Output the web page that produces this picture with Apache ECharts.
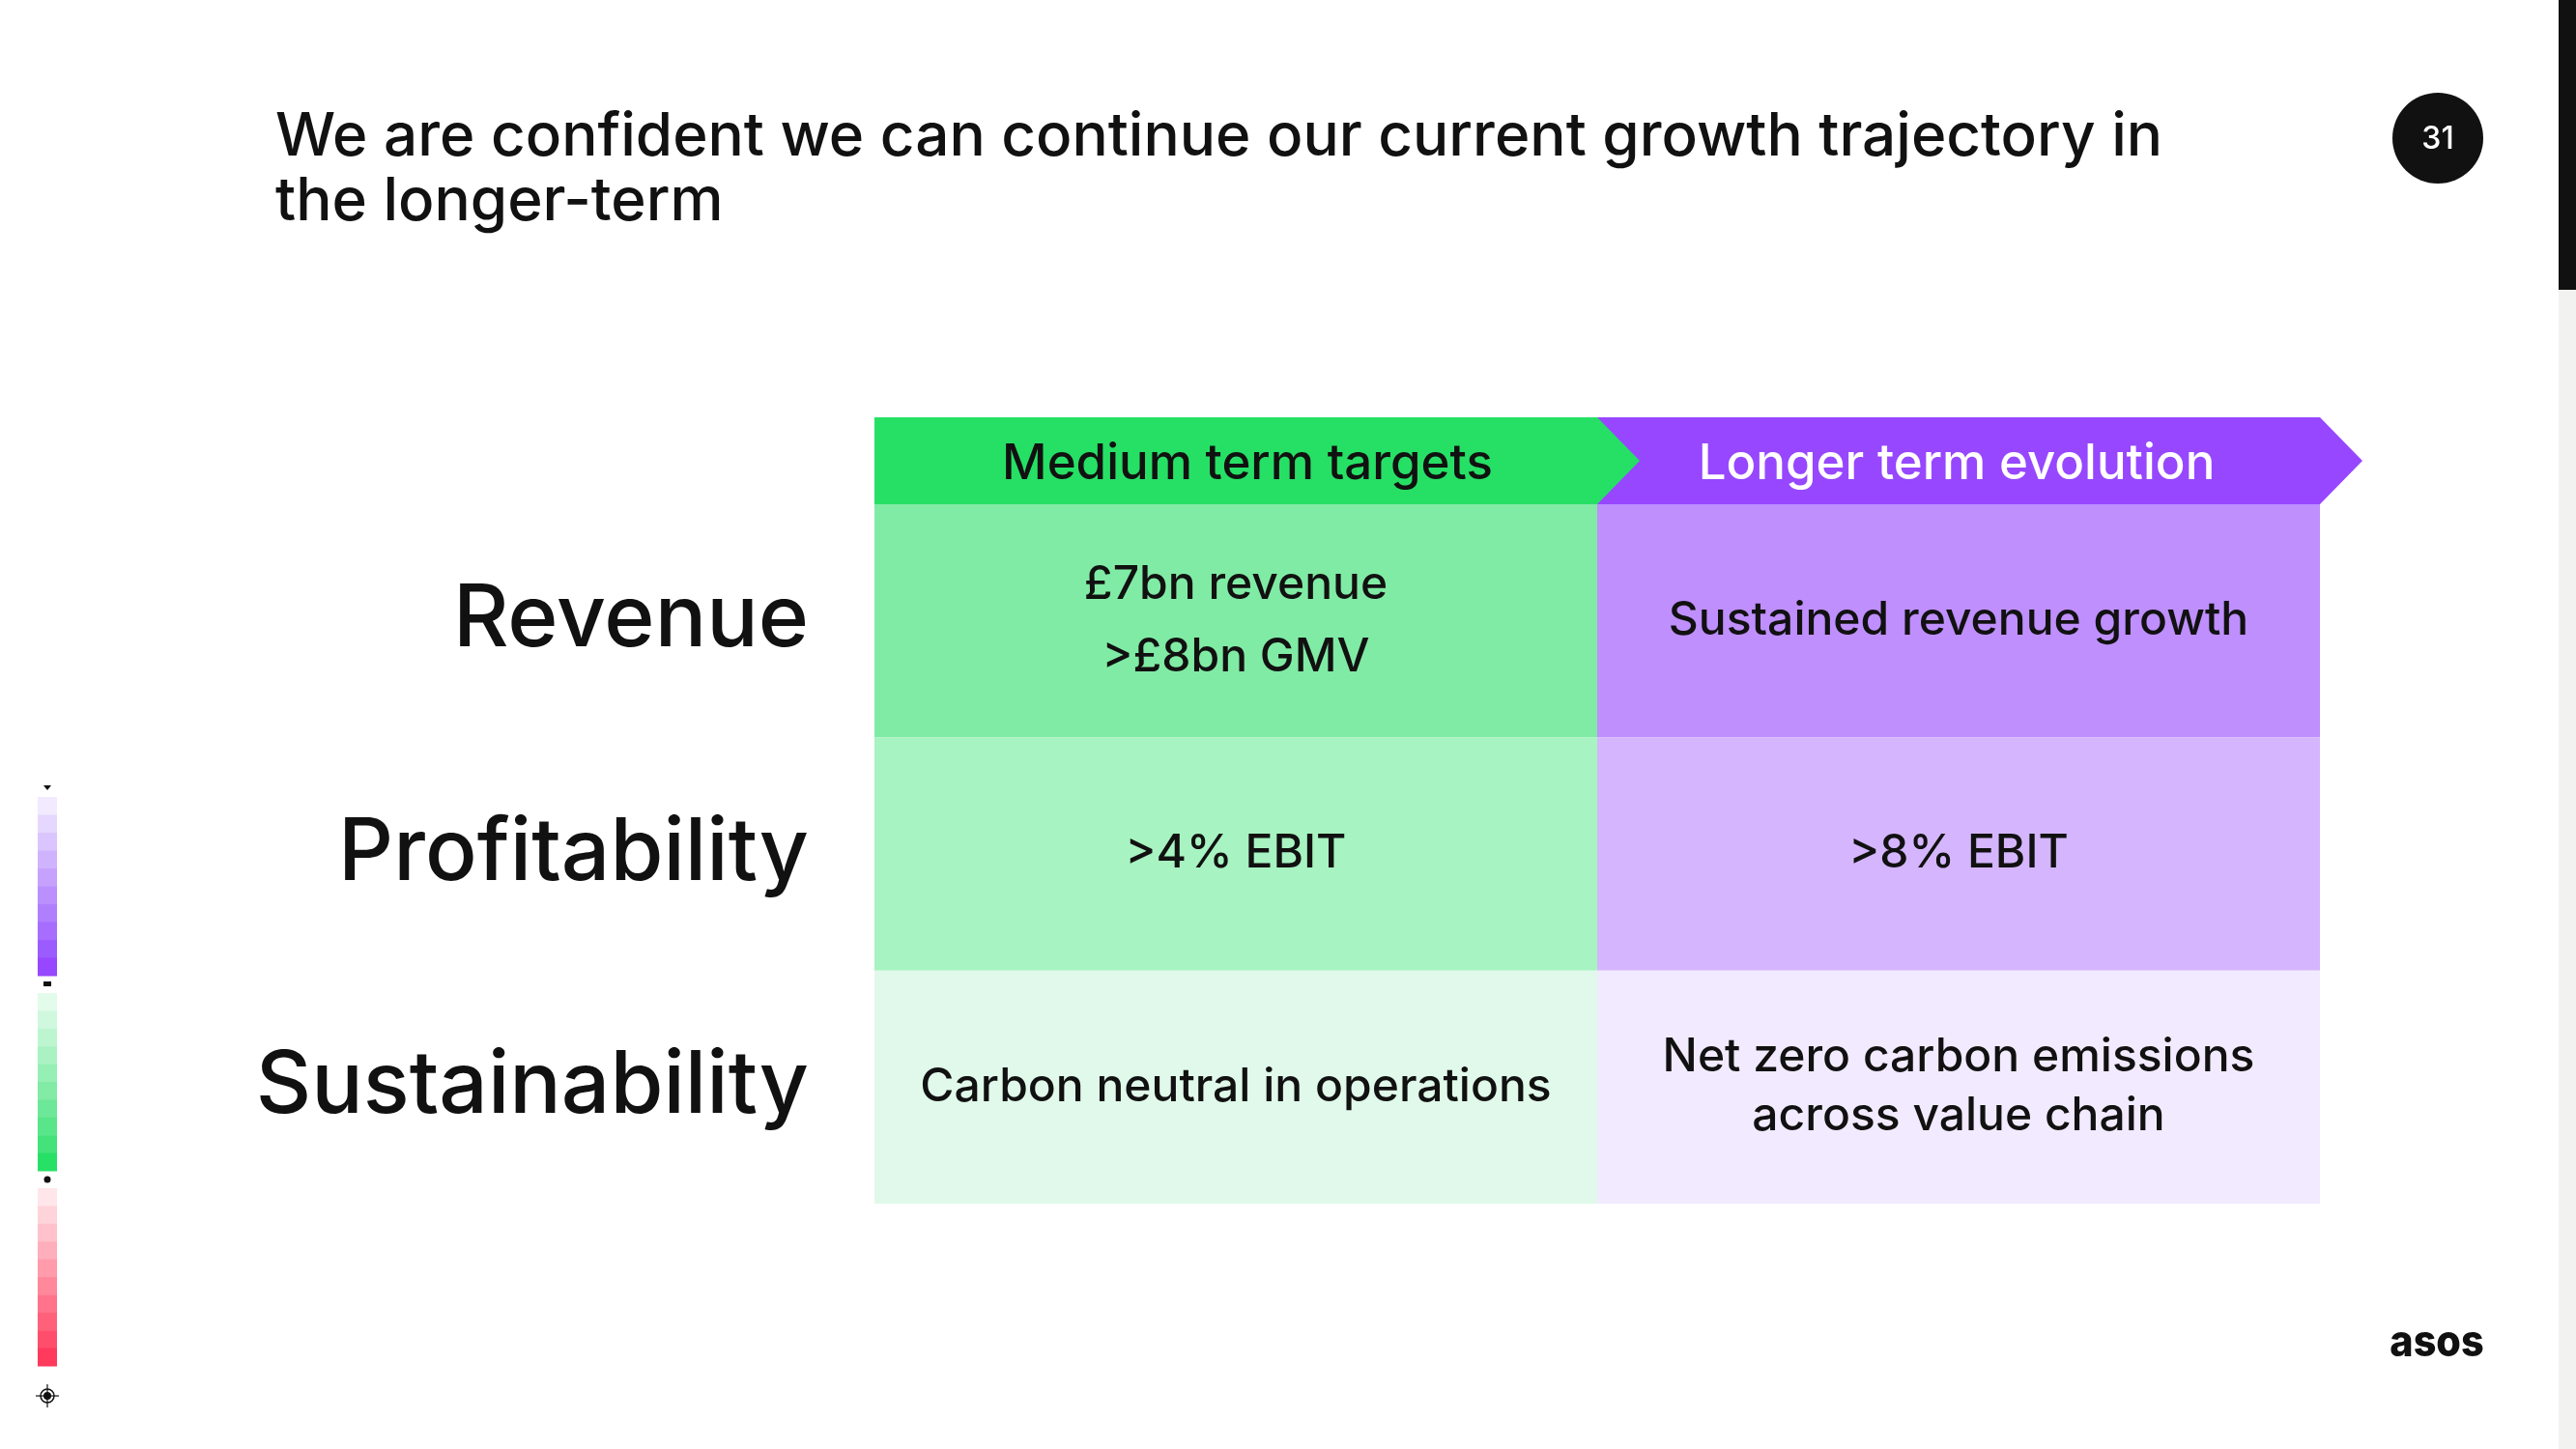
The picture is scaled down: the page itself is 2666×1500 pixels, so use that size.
<!DOCTYPE html>
<html><head><meta charset="utf-8">
<script src="https://cdn.jsdelivr.net/npm/echarts@6/dist/echarts.min.js"></script>
<style>html,body{margin:0;padding:0;background:#fff}#c{width:2666px;height:1500px}</style>
</head><body><div id="c"></div>
<script>
// ---- content ----
const titleText = 'We are confident we can continue our current growth trajectory in\nthe longer-term';
const columns = ['Medium term targets', 'Longer term evolution'];
const rows = ['Revenue', 'Profitability', 'Sustainability'];
const mediumTerm = ['£7bn revenue\n>£8bn GMV', '>4% EBIT', 'Carbon neutral in operations'];
const longerTerm = ['Sustained revenue growth', '>8% EBIT', 'Net zero carbon emissions\nacross value chain'];
const pageNumber = '31';
const logoText = 'asos';

// ---- styles ----
const FONT = 'Inter, "Noto Sans", sans-serif';
const headerColors = ['#26e065', '#9747ff'];
const headerTextColors = ['#111111', '#ffffff'];
const cellColors = [['#80eba4', '#a7f3c1', '#e0f9ea'], ['#bf8ffe', '#d5b6fe', '#f2eafe']];
const cellLineHeights = [75, 60, 61];
const stripPurple = ['#f2eafe','#e6d7fe','#dbc5fe','#d0b3fe','#c6a2fe','#bb90fe','#b07ffe','#a66dfe','#9c5bfe','#9747ff'];
const stripGreen = ['#e3fbeb','#d0f8de','#bdf5d0','#aaf2c2','#96efb4','#82eba6','#6de898','#59e58a','#44e27b','#27e066'];
const stripRed = ['#ffe6ea','#ffd3da','#ffc1cb','#ffaebb','#ff9bab','#ff889b','#ff748b','#ff617b','#ff4e6b','#ff3a5c'];

const cellTexts = [mediumTerm, longerTerm];
const cellData = [];
columns.forEach((c, ci) => rows.forEach((r, ri) => cellData.push([ci, ri])));

const HEADER_H = 90, TIP = 44;

function renderHeader(params, api) {
  const i = api.value(0);
  const ctr = api.coord([i, 0]);
  const sz = api.size([1, 1]);
  const x0 = ctr[0] - sz[0] / 2, x1 = ctr[0] + sz[0] / 2;
  const y1 = ctr[1] - sz[1] / 2, y0 = y1 - HEADER_H;
  return {
    type: 'group',
    children: [
      { type: 'polygon', z2: i === 0 ? 20 : 10,
        shape: { points: [[x0, y0], [x1, y0], [x1 + TIP, (y0 + y1) / 2], [x1, y1], [x0, y1]] },
        style: { fill: headerColors[i] } },
      { type: 'text', z2: 30, x: ctr[0] + (i === 0 ? 12 : -2), y: (y0 + y1) / 2 + 4,
        style: { text: columns[i], fill: headerTextColors[i], font: '500 51px ' + FONT,
                 align: 'center', verticalAlign: 'middle' } }
    ]
  };
}

function renderCell(params, api) {
  const c = api.value(0), r = api.value(1);
  const ctr = api.coord([c, r]);
  const sz = api.size([1, 1]);
  return {
    type: 'group',
    children: [
      { type: 'rect', shape: { x: ctr[0] - sz[0] / 2, y: ctr[1] - sz[1] / 2, width: sz[0], height: sz[1] },
        style: { fill: cellColors[c][r] } },
      { type: 'text', x: ctr[0], y: ctr[1],
        style: { text: cellTexts[c][r], fill: '#111111', font: '500 48px ' + FONT,
                 lineHeight: cellLineHeights[r], align: 'center', verticalAlign: 'middle' } }
    ]
  };
}

function strip(colors, top, x, h) {
  return colors.map((col, k) => ({
    type: 'rect', shape: { x: x, y: top + k * h, width: 20, height: h + 0.5 }, style: { fill: col }
  }));
}

const chart = echarts.init(document.getElementById('c'));
chart.setOption({
  backgroundColor: '#ffffff',
  animation: false,
  title: {
    text: titleText, left: 280, top: 104,
    textStyle: { fontFamily: FONT, fontSize: 62, fontWeight: 500, color: '#111111', lineHeight: 67 }
  },
  grid: { left: 905, right: 265, top: 522, bottom: 254 },
  xAxis: { type: 'category', data: columns, show: false },
  yAxis: {
    type: 'category', data: rows, inverse: true,
    axisLine: { show: false }, axisTick: { show: false }, splitLine: { show: false },
    axisLabel: { margin: 68, fontFamily: FONT, fontSize: 89, fontWeight: 500, color: '#111111' }
  },
  series: [
    { type: 'custom', name: 'cells', data: cellData, renderItem: renderCell, z: 2 },
    { type: 'custom', name: 'header', data: columns.map((c, i) => [i]), renderItem: renderHeader, z: 3 }
  ],
  graphic: [
    // page number badge
    { type: 'circle', shape: { cx: 2523, cy: 143, r: 47 }, style: { fill: '#111111' } },
    { type: 'text', x: 2523, y: 144, style: { text: pageNumber, fill: '#ffffff', font: '500 32px ' + FONT, align: 'center', verticalAlign: 'middle' } },
    // scrollbar
    { type: 'rect', shape: { x: 2648, y: 0, width: 18, height: 1500 }, style: { fill: '#f2f2f0' } },
    { type: 'rect', shape: { x: 2648, y: 0, width: 18, height: 300 }, style: { fill: '#111111' } },
    // logo
    { type: 'text', x: 2522, y: 1390, scaleX: 0.92, style: { text: logoText, fill: '#111111', font: '800 45px ' + FONT, align: 'center', verticalAlign: 'middle' } },
    // left colour strips
    { type: 'group', children: [].concat(
        strip(stripPurple, 825, 39, 18.5),
        strip(stripGreen, 1028, 39, 18.4),
        strip(stripRed, 1230, 39, 18.4),
        [
          { type: 'polygon', shape: { points: [[45, 813], [53, 813], [49, 818]] }, style: { fill: '#111' } },
          { type: 'rect', shape: { x: 45, y: 1016, width: 8, height: 5 }, style: { fill: '#111' } },
          { type: 'circle', shape: { cx: 49, cy: 1221, r: 3.5 }, style: { fill: '#111' } },
          { type: 'circle', shape: { cx: 49, cy: 1445, r: 7 }, style: { fill: 'none', stroke: '#111', lineWidth: 1.5 } },
          { type: 'circle', shape: { cx: 49, cy: 1445, r: 4 }, style: { fill: '#111' } },
          { type: 'line', shape: { x1: 37, y1: 1445, x2: 61, y2: 1445 }, style: { stroke: '#111', lineWidth: 1.2 } },
          { type: 'line', shape: { x1: 49, y1: 1433, x2: 49, y2: 1457 }, style: { stroke: '#111', lineWidth: 1.2 } }
        ]) }
  ]
});
</script>
</body></html>
